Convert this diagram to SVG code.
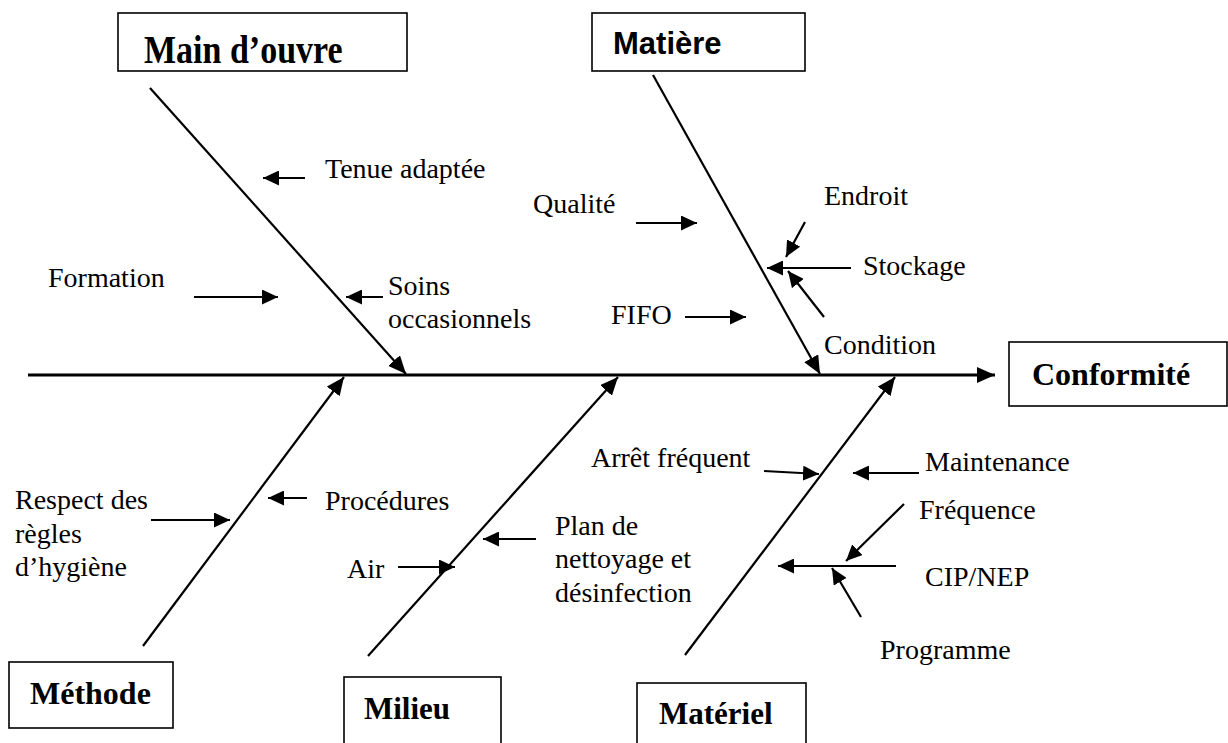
<svg xmlns="http://www.w3.org/2000/svg" width="1228" height="743" viewBox="0 0 1228 743">
  <style>
    .box { fill: #fff; stroke: #000; stroke-width: 1.6; }
    .head { font-family: "Liberation Serif", "Times New Roman", serif; font-weight: bold; fill: #000; }
    .headsans { font-family: "Liberation Sans", Arial, sans-serif; font-weight: bold; fill: #000; }
    .lbl { font-family: "Liberation Serif", "Times New Roman", serif; font-size: 28px; fill: #000; }
    .bone { stroke: #000; stroke-width: 2.2; fill: none; }
    .spine { stroke: #000; stroke-width: 2.8; fill: none; }
    .sub { stroke: #000; stroke-width: 2.2; fill: none; }
  </style>
  <defs>
    <marker id="ah" markerUnits="userSpaceOnUse" viewBox="0 0 18 16" refX="18" refY="8" markerWidth="18" markerHeight="16" orient="auto">
      <path d="M0,0 L18,8 L0,16 z" fill="#000"/>
    </marker>
    <marker id="ahs" markerUnits="userSpaceOnUse" viewBox="0 0 16 15" refX="16" refY="7.5" markerWidth="16" markerHeight="15" orient="auto">
      <path d="M0,0 L16,7.5 L0,15 z" fill="#000"/>
    </marker>
  </defs>

  <rect width="1228" height="743" fill="#fff"/>

  <!-- main spine and category bones -->
  <g id="connectors">
    <line class="spine" x1="28" y1="375" x2="995" y2="375" marker-end="url(#ah)"/>
    <line class="bone" x1="150" y1="88" x2="406" y2="374" marker-end="url(#ah)"/>
    <line class="bone" x1="653" y1="75" x2="820" y2="374" marker-end="url(#ah)"/>
    <line class="bone" x1="143" y1="646" x2="344" y2="377" marker-end="url(#ah)"/>
    <line class="bone" x1="368" y1="656" x2="618" y2="377" marker-end="url(#ah)"/>
    <line class="bone" x1="685" y1="655" x2="895" y2="377" marker-end="url(#ah)"/>

    <!-- cause arrows -->
    <line class="sub" x1="305" y1="178" x2="263" y2="178" marker-end="url(#ahs)"/>
    <line class="sub" x1="194" y1="297" x2="278" y2="297" marker-end="url(#ahs)"/>
    <line class="sub" x1="383" y1="297" x2="346" y2="297" marker-end="url(#ahs)"/>
    <line class="sub" x1="636" y1="223" x2="697" y2="223" marker-end="url(#ahs)"/>
    <line class="sub" x1="805" y1="222" x2="786" y2="257" marker-end="url(#ahs)"/>
    <line class="sub" x1="851" y1="268" x2="767" y2="268" marker-end="url(#ahs)"/>
    <line class="sub" x1="824" y1="317" x2="788" y2="271" marker-end="url(#ahs)"/>
    <line class="sub" x1="685" y1="317" x2="746" y2="317" marker-end="url(#ahs)"/>
    <line class="sub" x1="151" y1="520" x2="230" y2="520" marker-end="url(#ahs)"/>
    <line class="sub" x1="307" y1="498" x2="268" y2="498" marker-end="url(#ahs)"/>
    <line class="sub" x1="398" y1="567" x2="455" y2="567" marker-end="url(#ahs)"/>
    <line class="sub" x1="536" y1="539" x2="483" y2="539" marker-end="url(#ahs)"/>
    <line class="sub" x1="764" y1="471" x2="819" y2="474" marker-end="url(#ahs)"/>
    <line class="sub" x1="919" y1="473" x2="853" y2="473" marker-end="url(#ahs)"/>
    <line class="sub" x1="904" y1="504" x2="846" y2="561" marker-end="url(#ahs)"/>
    <line class="sub" x1="896" y1="566" x2="778" y2="566" marker-end="url(#ahs)"/>
    <line class="sub" x1="861" y1="617" x2="832" y2="568" marker-end="url(#ahs)"/>
  </g>

  <!-- category boxes -->
  <g id="main-doeuvre">
    <rect class="box" x="118" y="13" width="289" height="58"/>
    <text class="head" font-size="34" transform="translate(144,63) scale(1,1.18)">Main d’ouvre</text>
  </g>
  <g id="matiere">
    <rect class="box" x="592" y="13" width="213" height="58"/>
    <text class="headsans" font-size="31" x="613" y="54">Matière</text>
  </g>
  <g id="conformite">
    <rect class="box" x="1009" y="342" width="218" height="64"/>
    <text class="head" font-size="32" x="1032" y="385">Conformité</text>
  </g>
  <g id="methode">
    <rect class="box" x="9" y="662" width="164" height="66"/>
    <text class="head" font-size="32" x="30" y="704">Méthode</text>
  </g>
  <g id="milieu">
    <rect class="box" x="344" y="677" width="157" height="80"/>
    <text class="head" font-size="31" x="364" y="719">Milieu</text>
  </g>
  <g id="materiel">
    <rect class="box" x="637" y="683" width="169" height="80"/>
    <text class="head" font-size="31" x="659" y="724">Matériel</text>
  </g>

  <!-- cause labels -->
  <g id="labels">
    <text class="lbl" x="325" y="178">Tenue adaptée</text>
    <text class="lbl" x="48" y="287">Formation</text>
    <text class="lbl" x="388" y="295">Soins</text>
    <text class="lbl" x="388" y="328">occasionnels</text>
    <text class="lbl" x="533" y="213">Qualité</text>
    <text class="lbl" x="824" y="205">Endroit</text>
    <text class="lbl" x="863" y="275">Stockage</text>
    <text class="lbl" x="611" y="324">FIFO</text>
    <text class="lbl" x="824" y="354">Condition</text>
    <text class="lbl" x="15" y="509">Respect des</text>
    <text class="lbl" x="15" y="543">règles</text>
    <text class="lbl" x="15" y="576">d’hygiène</text>
    <text class="lbl" x="325" y="510">Procédures</text>
    <text class="lbl" x="347" y="578">Air</text>
    <text class="lbl" x="555" y="535">Plan de</text>
    <text class="lbl" x="555" y="568">nettoyage et</text>
    <text class="lbl" x="555" y="602">désinfection</text>
    <text class="lbl" x="591" y="467">Arrêt fréquent</text>
    <text class="lbl" x="925" y="471">Maintenance</text>
    <text class="lbl" x="919" y="519">Fréquence</text>
    <text class="lbl" x="925" y="586">CIP/NEP</text>
    <text class="lbl" x="880" y="659">Programme</text>
  </g>
</svg>
